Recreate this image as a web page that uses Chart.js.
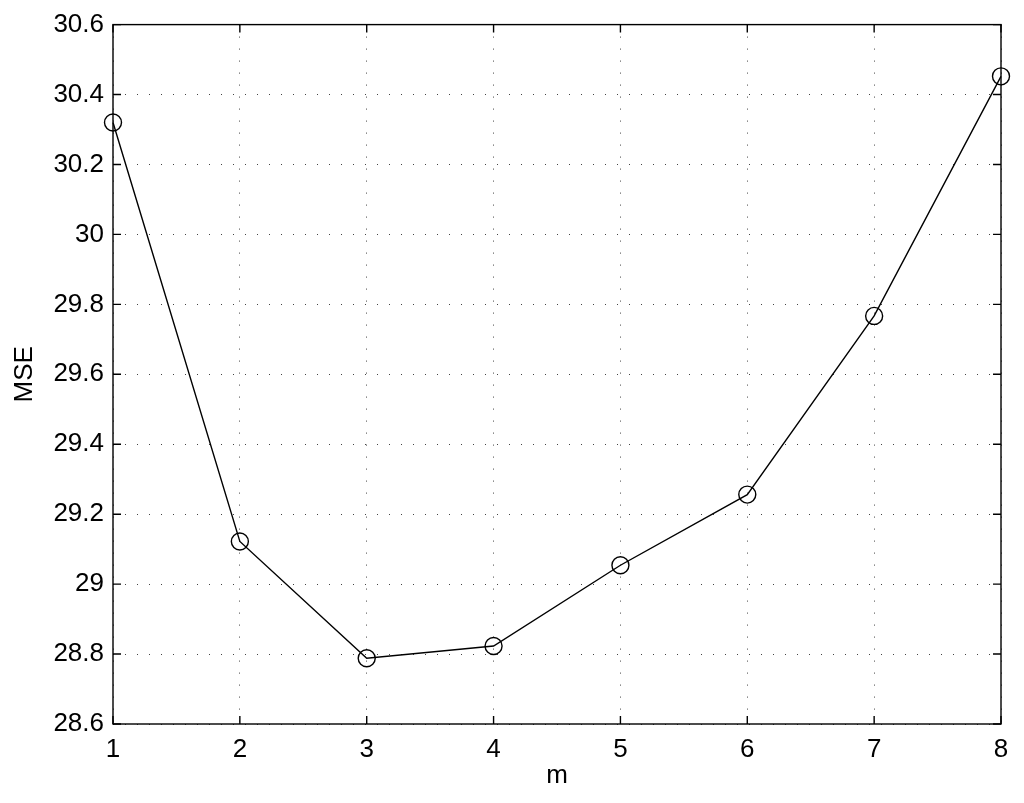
<!DOCTYPE html>
<html lang="en">
<head>
<meta charset="UTF-8">
<title>MSE vs m</title>
<script src="https://cdn.jsdelivr.net/npm/chart.js"></script>
<style>
    html, body { margin: 0; padding: 0; background: #fff; }
    #wrap { width: 1024px; height: 803px; }
</style>
</head>
<body>
<div id="wrap"><canvas id="chart"></canvas></div>
<script>
    // values
    const mValues = [1, 2, 3, 4, 5, 6, 7, 8];
    const mseValues = [30.32, 29.122, 28.788, 28.823, 29.054, 29.256, 29.767, 30.452];
    const yTicks = [28.6, 28.8, 29, 29.2, 29.4, 29.6, 29.8, 30, 30.2, 30.4, 30.6];

    const FONT = 'Liberation Sans, Arial, Helvetica, sans-serif';

    // MATLAB style box with inward tick marks
    const boxPlugin = {
        id: 'box',
        afterDatasetsDraw(chart) {
            const { ctx, chartArea: a, scales } = chart;
            ctx.save();
            ctx.strokeStyle = '#000';
            ctx.lineWidth = 1.4;
            ctx.strokeRect(a.left, a.top, a.right - a.left, a.bottom - a.top);
            const len = 8;
            ctx.beginPath();
            mValues.forEach(v => {
                const x = scales.x.getPixelForValue(v);
                ctx.moveTo(x, a.bottom); ctx.lineTo(x, a.bottom - len);
                ctx.moveTo(x, a.top); ctx.lineTo(x, a.top + len);
            });
            yTicks.forEach(v => {
                const y = scales.y.getPixelForValue(v);
                ctx.moveTo(a.left, y); ctx.lineTo(a.left + len, y);
                ctx.moveTo(a.right, y); ctx.lineTo(a.right - len, y);
            });
            ctx.stroke();
            ctx.restore();
        }
    };

    new Chart(document.getElementById('chart'), {
        type: 'line',
        data: {
            datasets: [{
                data: mValues.map((m, i) => ({ x: m, y: mseValues[i] })),
                borderColor: '#000',
                borderWidth: 1.4,
                pointRadius: 8.5,
                pointBorderWidth: 1.4,
                pointBorderColor: '#000',
                pointBackgroundColor: 'rgba(0,0,0,0)',
                fill: false,
                tension: 0,
                clip: false
            }]
        },
        options: {
            responsive: true,
            maintainAspectRatio: false,
            animation: false,
            layout: { padding: { top: 23, right: 23, left: 0, bottom: 0 } },
            plugins: { legend: { display: false }, tooltip: { enabled: false } },
            scales: {
                x: {
                    type: 'linear',
                    min: 1, max: 8,
                    afterFit(scale) { scale.height = 79; },
                    ticks: { stepSize: 1, color: '#000', font: { family: FONT, size: 26 }, padding: 10 },
                    grid: { color: '#444', lineWidth: 1, drawTicks: false },
                    border: { display: false, dash: [1, 11] },
                    title: { display: true, text: 'm', color: '#000', font: { family: FONT, size: 26 }, padding: { top: 0, bottom: 12 } }
                },
                y: {
                    min: 28.6, max: 30.6,
                    afterFit(scale) { scale.width = 113; },
                    afterBuildTicks(scale) { scale.ticks = yTicks.map(v => ({ value: v })); },
                    ticks: {
                        color: '#000', font: { family: FONT, size: 26 }, padding: 9,
                        callback: v => String(Math.round(v * 10) / 10)
                    },
                    grid: { color: '#444', lineWidth: 1, drawTicks: false },
                    border: { display: false, dash: [1, 11] },
                    title: { display: true, text: 'MSE', color: '#000', font: { family: FONT, size: 26 }, padding: { top: 9, bottom: 0 } }
                }
            }
        },
        plugins: [boxPlugin]
    });
</script>
</body>
</html>
